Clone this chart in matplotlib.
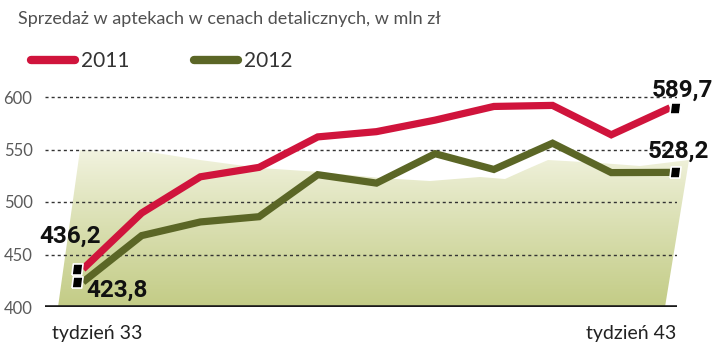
import numpy as np
import matplotlib
matplotlib.use("Agg")
import matplotlib.pyplot as plt
from matplotlib.patches import Polygon
from matplotlib.path import Path

# data: weekly pharmacy sales, mln zl
weeks = list(range(33, 44))
sales_2011 = [436.2, 489.5, 524, 533, 562, 567, 578, 591, 592, 564, 589.7]
sales_2012 = [423.8, 468, 481, 486, 526, 518, 546, 531, 556, 528, 528.2]
series_labels = ["2011", "2012"]
yticks = [400, 450, 500, 550, 600]
xtick_labels = ["tydzień 33", "tydzień 43"]

RED = "#d0143c"
GREEN = "#5b6626"
W, H = 720, 362

fig = plt.figure(figsize=(7.2, 3.62), dpi=100)

# background gradient (pixel coordinates)
bg = fig.add_axes([0, 0, 1, 1])
bg.set_xlim(0, W)
bg.set_ylim(H, 0)
bg.axis("off")
grad = np.linspace(0, 1, 256)[:, None]
c_top = np.array([0.950, 0.955, 0.880])
c_bot = np.array([0.765, 0.800, 0.525])
img = c_top + (c_bot - c_top) * grad[:, :, None] ** 0.9
outline = [(58, 307), (80, 150), (150, 152), (200, 160), (260, 168), (320, 172),
           (380, 178), (430, 181), (480, 177), (505, 179), (525, 170), (548, 160),
           (600, 163), (640, 166), (689, 160), (665, 307)]
im = bg.imshow(img, extent=[50, 700, 307, 150], aspect="auto", zorder=0)
clip = Polygon(outline, closed=True, transform=bg.transData, facecolor="none", edgecolor="none")
bg.add_patch(clip)
im.set_clip_path(clip)

# main axes
ax = fig.add_axes([45 / W, 1 - 307 / H, 632 / W, 227 / H])
ax.patch.set_alpha(0)
x = np.arange(len(weeks))
ax.set_xlim(-0.647, 10.12)
ax.set_ylim(400, 400 + 227 / 1.05)

for y in yticks[1:]:
    ax.axhline(y, color="#333333", lw=1.0, ls=(0, (2.2, 2.2)), zorder=1)
ax.axhline(400, color="#1a1a1a", lw=2.6, zorder=2)

ax.plot(x, sales_2011, color=RED, lw=5.2, solid_joinstyle="miter", label=series_labels[0], zorder=4,
        solid_capstyle="butt")
ax.plot(x, sales_2012, color=GREEN, lw=5.2, solid_joinstyle="miter", label=series_labels[1], zorder=3,
        solid_capstyle="butt")

# slanted square end markers
mk = Path([(-1, -1), (0.75, -1), (1, 1), (-0.75, 1), (-1, -1)])
for s in (sales_2011, sales_2012):
    ax.plot([x[0] - 0.1, x[-1] + 0.08], [s[0], s[-1]], ls="none", marker=mk, ms=8,
            mfc="black", mec="white", mew=1.2, zorder=6, clip_on=False)

vfont = dict(family="Roboto", fontweight="bold", fontsize=17.5, color="#111111")
ax.annotate("436,2", (x[0], sales_2011[0]), xytext=(-13, 33), textcoords="offset pixels",
            ha="center", va="center", **vfont)
ax.annotate("423,8", (x[0], sales_2012[0]), xytext=(34, -8), textcoords="offset pixels",
            ha="center", va="center", **vfont)
ax.annotate("589,7", (x[-1], sales_2011[-1]), xytext=(12, 18), textcoords="offset pixels",
            ha="center", va="center", **vfont)
ax.annotate("528,2", (x[-1], sales_2012[-1]), xytext=(8, 21), textcoords="offset pixels",
            ha="center", va="center", **vfont)

ax.set_yticks(yticks)
ax.set_yticklabels([str(v) for v in yticks], fontsize=12, color="#5a5a5a", fontfamily="Lato")
ax.tick_params(axis="y", length=0, pad=9)
ax.set_xticks([])
for sp in ax.spines.values():
    sp.set_visible(False)

fig.text(52 / W, 1 - 333 / H, xtick_labels[0], fontsize=14, color="#222222", va="center", ha="left",
         fontfamily="Lato")
fig.text(676 / W, 1 - 333 / H, xtick_labels[1], fontsize=14, color="#222222", va="center", ha="right",
         fontfamily="Lato")

fig.text(18 / W, 1 - 19 / H, "Sprzedaż w aptekach w cenach detalicznych, w mln zł", fontsize=13,
         color="#505050", va="center", ha="left", fontfamily="Lato")

leg = fig.legend(loc="center left", bbox_to_anchor=(12 / W, 1 - 61 / H), ncol=2, frameon=False,
                 handlelength=2.1, handletextpad=0.3, columnspacing=3.1,
                 prop={"family": "Lato", "size": 15})
for h in leg.get_lines():
    h.set_linewidth(6)
    h.set_solid_capstyle("round")
for t in leg.get_texts():
    t.set_color("#333333")

fig.savefig("out.png", dpi=100)
